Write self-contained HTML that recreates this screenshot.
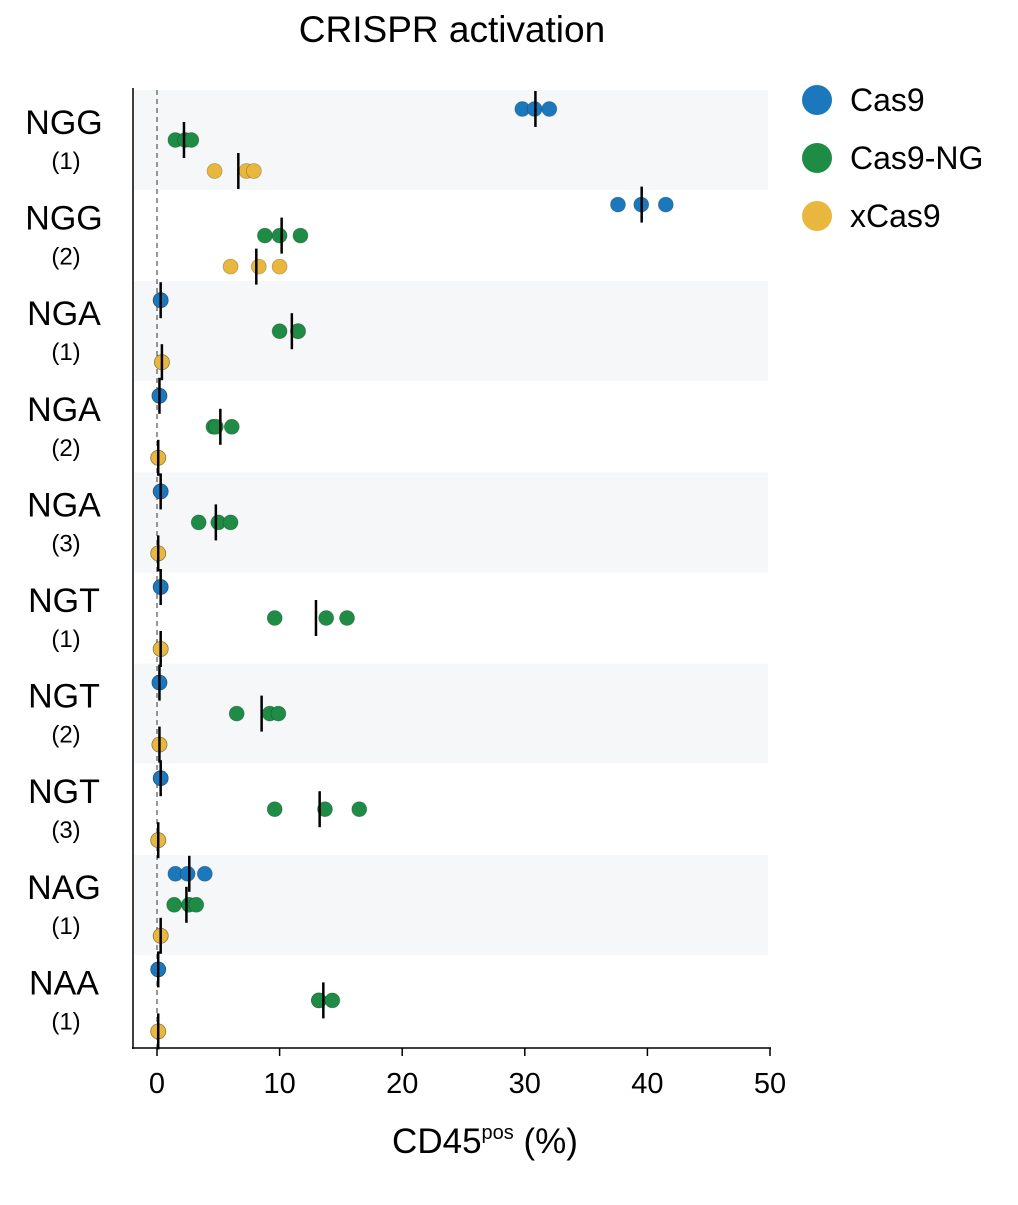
<!DOCTYPE html>
<html><head><meta charset="utf-8"><style>
body{margin:0;background:#fff;}
svg text{font-family:"Liberation Sans",sans-serif;fill:#000;}
</style></head><body>
<svg id="chart" width="1018" height="1200" viewBox="0 0 1018 1200" xmlns="http://www.w3.org/2000/svg">
<text x="452" y="42" font-size="37" text-anchor="middle">CRISPR activation</text>
<g id="bands"></g>
<g id="marks"></g>
<g id="axes"></g>
<g id="legend"></g>
</svg>
<script>
const categories = ["NGG","NGG","NGA","NGA","NGA","NGT","NGT","NGT","NAG","NAA"];
const replicates = ["(1)","(2)","(1)","(2)","(3)","(1)","(2)","(3)","(1)","(1)"];
const seriesNames = ["Cas9","Cas9-NG","xCas9"];
const seriesColors = ["#1b78bd","#1f8c46","#e9b73d"];
const cas9Values = [[29.8,30.8,32.0],[37.6,39.5,41.5],[0.3,0.3,0.3],[0.2,0.2,0.2],[0.3,0.3,0.3],[0.3,0.3,0.3],[0.2,0.2,0.2],[0.3,0.3,0.3],[1.5,2.5,3.9],[0.1,0.1,0.1]];
const cas9ngValues = [[1.5,2.3,2.8],[8.8,10.0,11.7],[10.0,11.5,11.5],[4.6,4.8,6.1],[3.4,5.0,6.0],[9.6,13.8,15.5],[6.5,9.2,9.9],[9.6,13.7,16.5],[1.4,2.6,3.2],[13.2,13.2,14.3]];
const xcas9Values = [[4.7,7.3,7.9],[6.0,8.3,10.0],[0.4,0.4,0.4],[0.1,0.1,0.1],[0.1,0.1,0.1],[0.3,0.3,0.3],[0.2,0.2,0.2],[0.1,0.1,0.1],[0.3,0.3,0.3],[0.1,0.1,0.1]];
const xTicks = [0,10,20,30,40,50];

const NS="http://www.w3.org/2000/svg";
const X0=157, XS=(770-157)/50, Y0=140, YS=95.6;
const xScale=v=>X0+v*XS;
const yScale=(g,s)=>Y0+g*YS+(s-1)*31;
function mk(tag,attrs,parent){const e=document.createElementNS(NS,tag);for(const k in attrs)e.setAttribute(k,attrs[k]);parent.appendChild(e);return e;}
const bands=document.getElementById('bands'),marks=document.getElementById('marks'),axes=document.getElementById('axes'),legend=document.getElementById('legend');
const allSeries=[cas9Values,cas9ngValues,xcas9Values];
categories.forEach((c,g)=>{
  if(g%2===0){const r=mk('rect',{x:133,y:Y0+g*YS-50,width:635,height:100,fill:'#f6f7f9'},bands);
    
    }
  const t=mk('text',{x:64,y:Y0+g*YS-6,'font-size':34,'text-anchor':'middle'},axes);t.textContent=c;
  
  
  const t2=mk('text',{x:66,y:Y0+g*YS+29,'font-size':24,'text-anchor':'middle'},axes);t2.textContent=replicates[g];
  
  
});
mk('line',{x1:xScale(0),x2:xScale(0),y1:90,y2:1048,stroke:'#555','stroke-width':1.2,'stroke-dasharray':'5,4'},marks);
allSeries.forEach((ser,s)=>{
  ser.forEach((vals,g)=>{
    const y=yScale(g,s);
    vals.forEach(v=>{const c=mk('circle',{cx:xScale(v),cy:y,r:7.5,fill:seriesColors[s],stroke:'rgba(0,0,0,0.25)','stroke-width':0.8},marks);
      
      });
    const m=vals.reduce((a,b)=>a+b,0)/vals.length;
    const l=mk('line',{x1:xScale(m),x2:xScale(m),y1:y-18,y2:y+18,stroke:'#000','stroke-width':2.5},marks);
    
    
  });
});
mk('line',{x1:133,x2:133,y1:88,y2:1049,stroke:'#000','stroke-width':1.5},axes);
mk('line',{x1:132,x2:771,y1:1048,y2:1048,stroke:'#000','stroke-width':1.5},axes);
xTicks.forEach(v=>{
  mk('line',{x1:xScale(v),x2:xScale(v),y1:1048,y2:1056,stroke:'#000','stroke-width':1.5},axes);
  const t=mk('text',{x:xScale(v),y:1093,'font-size':29,'text-anchor':'middle'},axes);t.textContent=v;
  
  
});
const xl=mk('text',{x:485,y:1153,'font-size':35,'text-anchor':'middle'},axes);
xl.innerHTML='CD45<tspan font-size="20" dy="-14">pos</tspan><tspan dy="14"> (%)</tspan>';


seriesNames.forEach((n,i)=>{
  const y=100+i*58;
  const c=mk('circle',{cx:817,cy:y,r:15,fill:seriesColors[i]},legend);
  
  
  const t=mk('text',{x:850,y:y+11,'font-size':32},legend);t.textContent=n;
  
  
});
</script>
</body></html>
